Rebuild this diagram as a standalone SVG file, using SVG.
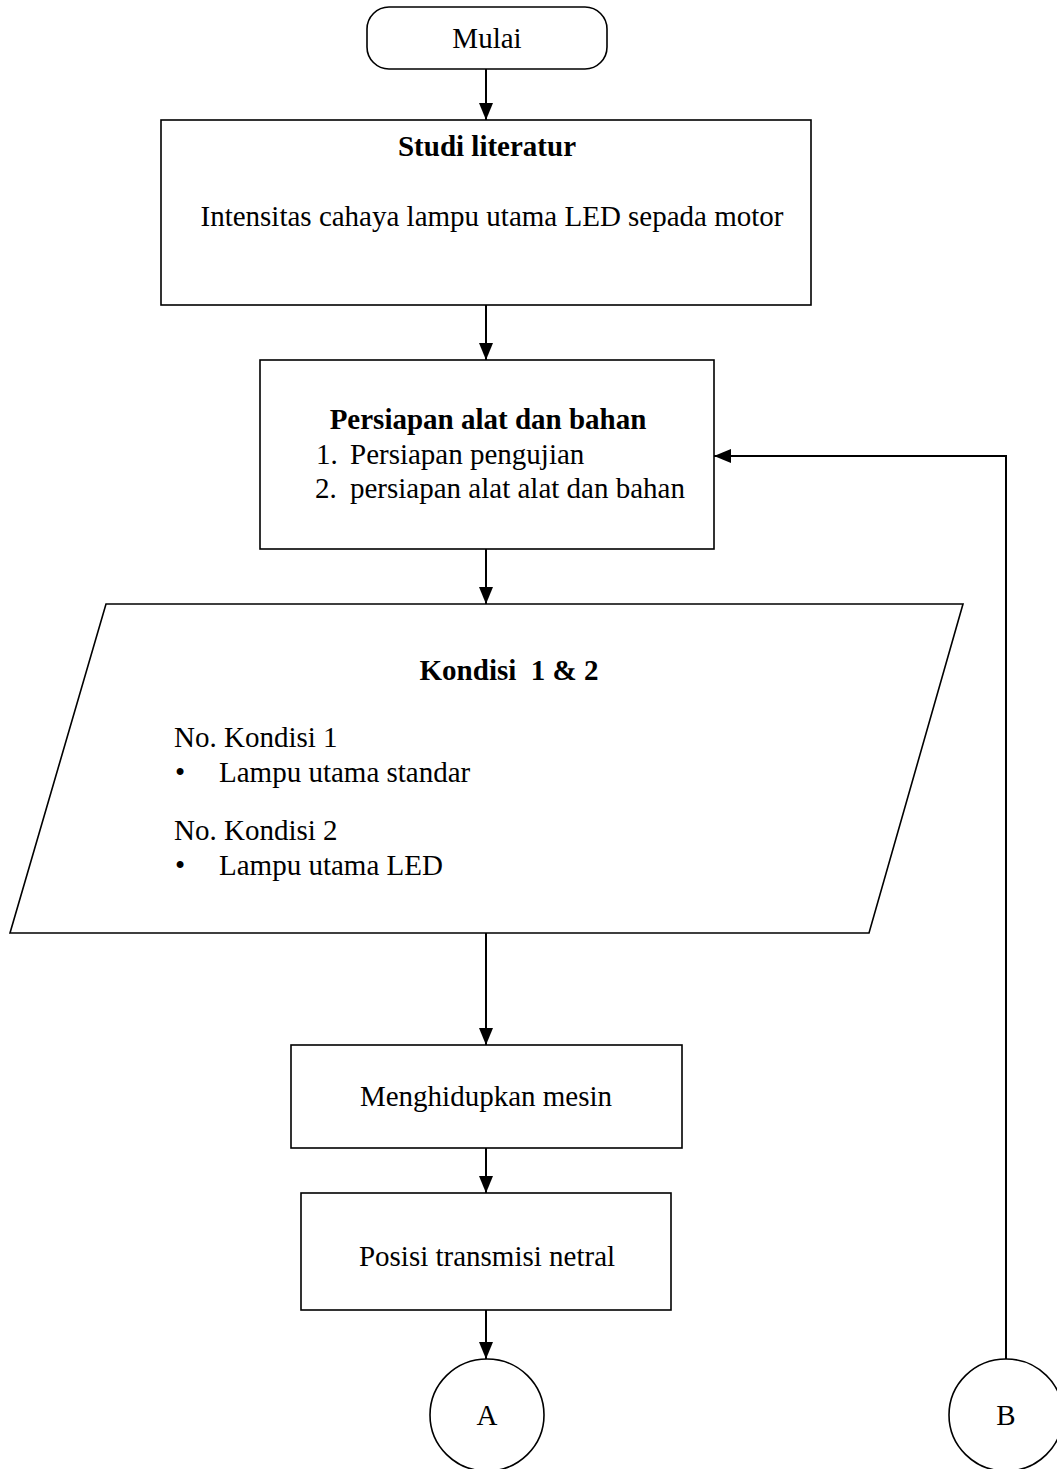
<svg xmlns="http://www.w3.org/2000/svg" width="1057" height="1469" viewBox="0 0 1057 1469">
  <style>
    .shape { fill: #ffffff; stroke: #000000; stroke-width: 1.6; }
    .link { fill: none; stroke: #000000; stroke-width: 2; }
    text { font-family: "Liberation Serif", "Times New Roman", serif; font-size: 29px; fill: #000000; }
    .b { font-weight: bold; }
    .c { text-anchor: middle; }
  </style>
  <defs>
    <marker id="arrow" markerWidth="17" markerHeight="14" refX="17" refY="7" orient="auto" markerUnits="userSpaceOnUse">
      <path d="M0,0 L17,7 L0,14 Z" fill="#000000"/>
    </marker>
  </defs>
  <rect width="1057" height="1469" fill="#ffffff"/>

  <g id="connectors">
    <line class="link" x1="486" y1="69" x2="486" y2="120" marker-end="url(#arrow)"/>
    <line class="link" x1="486" y1="305" x2="486" y2="360" marker-end="url(#arrow)"/>
    <line class="link" x1="486" y1="549" x2="486" y2="604" marker-end="url(#arrow)"/>
    <line class="link" x1="486" y1="933" x2="486" y2="1045" marker-end="url(#arrow)"/>
    <line class="link" x1="486" y1="1148" x2="486" y2="1193" marker-end="url(#arrow)"/>
    <line class="link" x1="486" y1="1310" x2="486" y2="1359" marker-end="url(#arrow)"/>
    <polyline class="link" points="1006,1359 1006,456 714,456" marker-end="url(#arrow)"/>
  </g>

  <g id="mulai">
    <rect class="shape" x="367" y="7" width="240" height="62" rx="22" ry="22"/>
    <text class="c" x="487" y="48">Mulai</text>
  </g>

  <g id="studi-literatur">
    <rect class="shape" x="161" y="120" width="650" height="185"/>
    <text class="c b" x="487" y="156">Studi literatur</text>
    <text class="c" x="492" y="226">Intensitas cahaya lampu utama LED sepada motor</text>
  </g>

  <g id="persiapan">
    <rect class="shape" x="260" y="360" width="454" height="189"/>
    <text class="c b" x="488" y="429">Persiapan alat dan bahan</text>
    <text x="316" y="464">1.</text>
    <text x="350" y="464">Persiapan pengujian</text>
    <text x="315" y="498">2.</text>
    <text x="350" y="498">persiapan alat alat dan bahan</text>
  </g>

  <g id="kondisi">
    <polygon class="shape" points="106,604 963,604 869,933 10,933"/>
    <text class="c b" x="509" y="680" xml:space="preserve">Kondisi  1 &amp; 2</text>
    <text x="174" y="747">No. Kondisi 1</text>
    <text x="175" y="782">•</text>
    <text x="219" y="782">Lampu utama standar</text>
    <text x="174" y="840">No. Kondisi 2</text>
    <text x="175" y="875">•</text>
    <text x="219" y="875">Lampu utama LED</text>
  </g>

  <g id="menghidupkan-mesin">
    <rect class="shape" x="291" y="1045" width="391" height="103"/>
    <text class="c" x="486" y="1106">Menghidupkan mesin</text>
  </g>

  <g id="posisi-transmisi">
    <rect class="shape" x="301" y="1193" width="370" height="117"/>
    <text class="c" x="487" y="1266">Posisi transmisi netral</text>
  </g>

  <g id="konektor-a">
    <ellipse class="shape" cx="487" cy="1415" rx="57" ry="56"/>
    <text class="c" x="487" y="1425">A</text>
  </g>

  <g id="konektor-b">
    <ellipse class="shape" cx="1006" cy="1415" rx="57" ry="56"/>
    <text class="c" x="1006" y="1425">B</text>
  </g>
</svg>
